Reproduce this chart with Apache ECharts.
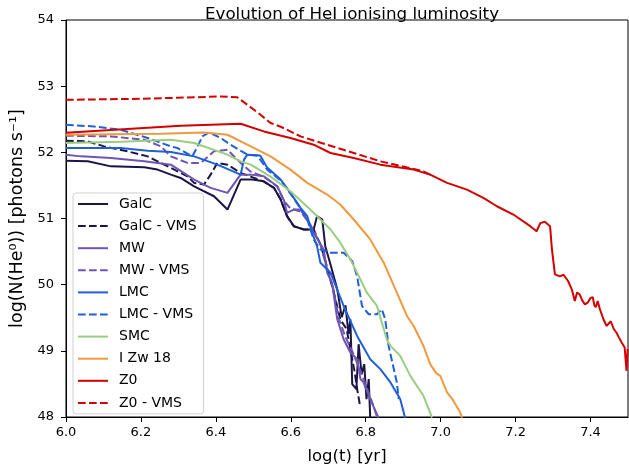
<!DOCTYPE html>
<html>
<head>
<meta charset="utf-8">
<script src="https://cdn.jsdelivr.net/npm/echarts@6/dist/echarts.min.js"></script>
<style>
  html, body { margin: 0; padding: 0; background: #fff; }
  #chart { width: 629px; height: 470px; }
</style>
</head>
<body>
<div id="chart"></div>
<script>
// HeI ionising photon rate, log(N) vs log(t), one [logt, logN] list per model
const galc = [[6.000,51.874],[6.058,51.864],[6.120,51.788],[6.209,51.773],[6.244,51.739],[6.280,51.663],[6.306,51.613],[6.342,51.487],[6.395,51.336],[6.431,51.135],[6.466,51.588],[6.497,51.588],[6.528,51.562],[6.555,51.463],[6.573,51.286],[6.590,51.035],[6.608,50.884],[6.635,50.834],[6.661,50.834],[6.670,51.035],[6.684,50.985],[6.692,50.582],[6.706,50.306],[6.724,49.929],[6.736,49.507],[6.746,49.688],[6.754,49.251],[6.759,49.477],[6.764,48.497],[6.775,48.422],[6.781,49.100],[6.789,48.648],[6.796,48.799],[6.802,48.271],[6.808,48.573],[6.812,47.990]];
const galcVms = [[6.000,52.176],[6.058,52.165],[6.102,52.090],[6.164,52.015],[6.218,51.939],[6.280,51.764],[6.324,51.638],[6.342,51.538],[6.368,51.512],[6.386,51.663],[6.404,51.840],[6.431,51.814],[6.466,51.689],[6.493,51.633],[6.528,51.558],[6.555,51.463],[6.573,51.286],[6.590,51.035],[6.608,50.884],[6.635,50.834],[6.661,50.834],[6.679,50.608],[6.695,50.306],[6.716,49.854],[6.732,49.477],[6.749,49.326],[6.759,49.025],[6.770,48.693],[6.778,48.392],[6.784,48.196]];
const mw = [[6.000,51.965],[6.040,51.939],[6.120,51.915],[6.209,51.864],[6.280,51.814],[6.342,51.588],[6.386,51.463],[6.431,51.387],[6.466,51.663],[6.493,51.663],[6.528,51.638],[6.564,51.487],[6.581,51.286],[6.590,51.086],[6.608,51.135],[6.626,51.135],[6.644,50.985],[6.661,50.784],[6.688,50.532],[6.697,50.181],[6.710,50.030],[6.724,49.477],[6.741,49.176],[6.759,48.975],[6.777,48.874],[6.786,48.573],[6.794,48.523],[6.812,48.271],[6.834,47.990]];
const mwVms = [[6.000,52.251],[6.120,52.241],[6.209,52.191],[6.253,52.090],[6.280,51.939],[6.324,51.840],[6.360,51.840],[6.395,52.015],[6.431,52.040],[6.466,51.840],[6.493,51.708],[6.528,51.633],[6.564,51.482],[6.581,51.271],[6.599,51.151],[6.626,51.105],[6.652,50.909],[6.679,50.608],[6.697,50.231],[6.714,49.929],[6.727,49.507],[6.746,49.206],[6.764,48.995],[6.786,48.693],[6.812,48.301],[6.831,47.990]];
const lmc = [[6.000,52.066],[6.146,52.066],[6.218,52.025],[6.280,52.005],[6.342,51.939],[6.404,51.814],[6.466,51.663],[6.475,51.889],[6.484,51.965],[6.511,51.957],[6.519,51.950],[6.537,51.769],[6.573,51.588],[6.599,51.387],[6.626,51.161],[6.644,51.035],[6.657,50.784],[6.670,50.582],[6.679,50.332],[6.706,50.181],[6.741,49.678],[6.777,49.225],[6.812,48.874],[6.839,48.723],[6.866,48.523],[6.892,48.271],[6.905,47.990]];
const lmcVms = [[6.000,52.417],[6.075,52.391],[6.146,52.342],[6.218,52.217],[6.280,52.090],[6.297,52.066],[6.337,51.939],[6.351,52.085],[6.364,52.241],[6.382,52.301],[6.413,52.217],[6.439,52.115],[6.475,51.995],[6.484,51.965],[6.511,51.950],[6.537,51.739],[6.573,51.573],[6.599,51.377],[6.626,51.151],[6.644,50.985],[6.661,50.683],[6.679,50.532],[6.706,50.483],[6.741,50.483],[6.764,50.356],[6.777,50.130],[6.790,49.678],[6.808,49.553],[6.830,49.553],[6.843,49.628],[6.852,49.477],[6.861,49.075],[6.883,48.523],[6.888,48.271]];
const smc = [[6.000,52.141],[6.146,52.161],[6.280,52.191],[6.342,52.141],[6.431,51.965],[6.466,51.864],[6.493,51.814],[6.546,51.633],[6.599,51.411],[6.652,51.135],[6.706,50.834],[6.732,50.634],[6.759,50.382],[6.777,50.181],[6.803,49.880],[6.830,49.678],[6.857,49.160],[6.866,49.075],[6.892,48.924],[6.919,48.622],[6.954,48.321],[6.977,47.990]];
const izw18 = [[6.000,52.266],[6.120,52.274],[6.253,52.281],[6.368,52.301],[6.431,52.266],[6.484,52.115],[6.546,51.939],[6.599,51.739],[6.644,51.538],[6.697,51.362],[6.732,51.211],[6.768,50.985],[6.812,50.683],[6.848,50.332],[6.883,49.880],[6.910,49.527],[6.928,49.376],[6.954,49.075],[6.972,48.799],[6.988,48.663],[6.999,48.622],[7.017,48.372],[7.031,48.271],[7.052,48.071],[7.057,47.990]];
const z0 = [[6.000,52.296],[6.306,52.402],[6.466,52.432],[6.528,52.316],[6.599,52.217],[6.661,52.115],[6.706,51.990],[6.768,51.915],[6.839,51.814],[6.928,51.739],[6.972,51.663],[7.017,51.538],[7.070,51.437],[7.114,51.312],[7.150,51.185],[7.194,51.060],[7.239,50.884],[7.256,50.808],[7.266,50.930],[7.278,50.950],[7.292,50.884],[7.297,50.532],[7.305,50.156],[7.318,50.126],[7.328,50.150],[7.340,50.055],[7.350,49.929],[7.358,49.753],[7.364,49.880],[7.371,49.854],[7.378,49.760],[7.385,49.703],[7.393,49.733],[7.400,49.800],[7.406,49.809],[7.410,49.690],[7.414,49.658],[7.419,49.753],[7.425,49.628],[7.435,49.470],[7.443,49.376],[7.454,49.447],[7.462,49.330],[7.469,49.277],[7.476,49.200],[7.483,49.126],[7.491,49.055],[7.496,48.698],[7.499,49.030]];
const z0Vms = [[6.000,52.794],[6.200,52.809],[6.413,52.844],[6.457,52.832],[6.484,52.719],[6.519,52.568],[6.546,52.443],[6.573,52.387],[6.626,52.241],[6.697,52.115],[6.768,51.990],[6.839,51.864],[6.928,51.750],[6.954,51.713],[6.972,51.663]];

const xTicks = { min: 6.0, max: 7.5, step: 0.2 };
const yTicks = { min: 48, max: 54, step: 1 };

const FONT = 'DejaVu Sans';
const DASH = [7.7, 3.3];

function line(name, data, color, dashed) {
  return {
    name: name,
    type: 'line',
    data: data,
    symbol: 'none',
    showSymbol: false,
    animation: false,
    lineStyle: { color: color, width: 2, type: dashed ? DASH : 'solid' },
    itemStyle: { color: color }
  };
}

const series = [
  line('GalC', galc, '#1c1547', false),
  line('GalC - VMS', galcVms, '#1c1547', true),
  line('MW', mw, '#6f55b3', false),
  line('MW - VMS', mwVms, '#6f55b3', true),
  line('LMC', lmc, '#1f60d8', false),
  line('LMC - VMS', lmcVms, '#1f60d8', true),
  line('SMC', smc, '#9acd82', false),
  line('I Zw 18', izw18, '#f0993e', false),
  line('Z0', z0, '#d20000', false),
  line('Z0 - VMS', z0Vms, '#d20000', true)
];

const chart = echarts.init(document.getElementById('chart'), null, { renderer: 'canvas' });
chart.setOption({
  animation: false,
  backgroundColor: '#fff',
  title: {
    text: 'Evolution of HeI ionising luminosity',
    left: 347, top: 1, textAlign: 'center',
    textStyle: { fontFamily: FONT, fontSize: 16.7, fontWeight: 'normal', color: '#000' }
  },
  grid: {
    left: 65, right: 1, top: 20, bottom: 52,
    show: true, borderColor: '#000', borderWidth: 1, backgroundColor: 'transparent'
  },
  legend: {
    orient: 'vertical',
    left: 73, top: 193,
    itemWidth: 30, itemHeight: 14, itemGap: 8.1,
    padding: [4, 7, 4, 4],
    backgroundColor: 'rgba(255,255,255,0.85)',
    borderColor: '#d0d0d0', borderWidth: 1, borderRadius: 3,
    itemStyle: { color: 'transparent', borderWidth: 0, opacity: 0 },
    textStyle: { fontFamily: FONT, fontSize: 14, color: '#000', padding: [0, 0, 0, 6] },
    data: series.map(s => s.name)
  },
  xAxis: {
    type: 'value',
    min: xTicks.min, max: xTicks.max, interval: xTicks.step,
    name: 'log(t) [yr]', nameLocation: 'middle', nameGap: 31,
    nameTextStyle: { fontFamily: FONT, fontSize: 16.5, color: '#000' },
    axisLine: { show: true, onZero: false, lineStyle: { color: '#000', width: 1 } },
    axisTick: { show: true, inside: false, length: 5, lineStyle: { color: '#000' } },
    axisLabel: { fontFamily: FONT, fontSize: 13, color: '#000', margin: 9,
      showMaxLabel: false, formatter: v => v.toFixed(1) },
    splitLine: { show: false }
  },
  yAxis: {
    type: 'value',
    min: yTicks.min, max: yTicks.max, interval: yTicks.step,
    name: 'log(N(He\u2070)) [photons s\u207B\u00B9]', nameLocation: 'middle', nameGap: 40,
    nameTextStyle: { fontFamily: FONT, fontSize: 17.5, color: '#000' },
    axisLine: { show: true, onZero: false, lineStyle: { color: '#000', width: 1 } },
    axisTick: { show: true, inside: false, length: 5, lineStyle: { color: '#000' } },
    axisLabel: { fontFamily: FONT, fontSize: 13, color: '#000', margin: 12 },
    splitLine: { show: false }
  },
  series: series
});
</script>
</body>
</html>
